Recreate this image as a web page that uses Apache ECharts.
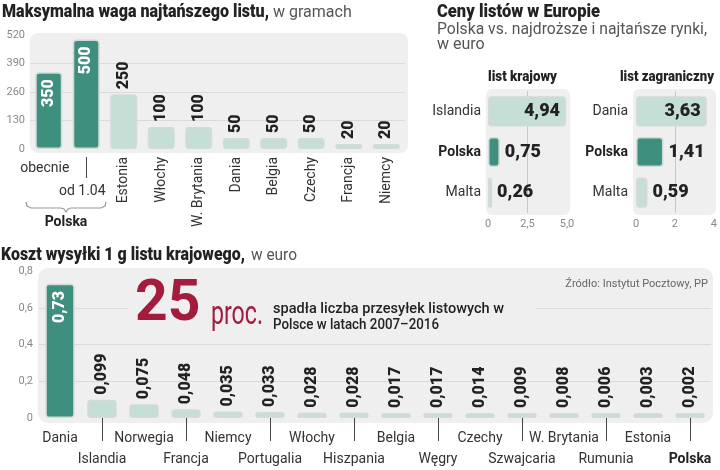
<!DOCTYPE html>
<html>
<head>
<meta charset="utf-8" />
<title>Listy w Europie</title>
<script src="https://cdn.jsdelivr.net/npm/echarts@6.0.0/dist/echarts.min.js"></script>
<style>
  html, body { margin: 0; padding: 0; background: #fff; }
  #chart { width: 720px; height: 470px; }
</style>
</head>
<body>
<div id="chart"></div>
<script>
// maksymalna waga najtanszego listu (g)
var wagaKraje = ['obecnie', 'od 1.04', 'Estonia', 'Włochy', 'W. Brytania', 'Dania', 'Belgia', 'Czechy', 'Francja', 'Niemcy'];
var wagaGramy = [350, 500, 250, 100, 100, 50, 50, 50, 20, 20];
var wagaPolska = [0, 1];

// ceny listow w Europie (euro)
var krajowyKraje = ['Islandia', 'Polska', 'Malta'];
var krajowyCeny = [4.94, 0.75, 0.26];
var zagrKraje = ['Dania', 'Polska', 'Malta'];
var zagrCeny = [3.63, 1.41, 0.59];

// koszt wysylki 1 g listu krajowego (euro)
var kosztKraje = ['Dania', 'Islandia', 'Norwegia', 'Francja', 'Niemcy', 'Portugalia', 'Włochy', 'Hiszpania',
                  'Belgia', 'Węgry', 'Czechy', 'Szwajcaria', 'W. Brytania', 'Rumunia', 'Estonia', 'Polska'];
var kosztEuro = [0.73, 0.099, 0.075, 0.048, 0.035, 0.033, 0.028, 0.028, 0.017, 0.017, 0.014, 0.009, 0.008, 0.006, 0.003, 0.002];
var kosztWyrozniony = 'Dania';

var DARK = '#3f8f7f';
var LIGHT = '#c6dfd6';
var RED = '#a31b3d';
var PANEL = '#efefef';
var GRIDC = '#dadada';
var FONT = "Roboto, 'Noto Sans', sans-serif";
var HEAVY = 900;

function przecinek(v) { return String(v).replace('.', ','); }

// waski tekst: sciskamy napis do szerokosci z oryginalu
var ctx = document.createElement('canvas').getContext('2d');
function waski(text, x, y, size, weight, color, width) {
    ctx.font = weight + ' ' + size + 'px ' + FONT;
    var w = ctx.measureText(text).width;
    var s = Math.min(1, width / w);
    return {
        type: 'text', z: 3, x: x, y: y, scaleX: s, originX: 0, originY: 0,
        style: { text: text, x: 0, y: 0, verticalAlign: 'middle', fontFamily: FONT, fontWeight: weight, fontSize: size, fill: color }
    };
}

var chart = echarts.init(document.getElementById('chart'));

var barStyle = { borderRadius: 3, borderWidth: 1.5, borderColor: '#d3dad7' };

var option = {
    animation: false,
    graphic: [
        { type: 'rect', z: -10, shape: { x: 30, y: 33, width: 378, height: 120, r: 8 }, style: { fill: PANEL } },
        { type: 'rect', z: -10, shape: { x: 486, y: 89, width: 84, height: 126, r: 6 }, style: { fill: PANEL } },
        { type: 'rect', z: -10, shape: { x: 633, y: 89, width: 83, height: 126, r: 6 }, style: { fill: PANEL } },
        { type: 'rect', z: -10, shape: { x: 38, y: 268, width: 675, height: 155, r: 10 }, style: { fill: PANEL } },

        waski('Maksymalna waga najtańszego listu,', 2, 12, 19, HEAVY, '#222', 267),
        waski('w gramach', 273, 13, 16, 'normal', '#555', 80),
        waski('Ceny listów w Europie', 437, 12, 19, HEAVY, '#222', 163),
        waski('Polska vs. najdroższe i najtańsze rynki,', 437, 30, 16, 'normal', '#555', 270),
        waski('w euro', 437, 45, 16, 'normal', '#555', 49),
        waski('Koszt wysyłki 1 g listu krajowego,', 1, 255, 19, HEAVY, '#222', 244),
        waski('w euro', 251, 256, 16, 'normal', '#555', 46),
        { type: 'text', z: 3, style: { text: 'Źródło: Instytut Pocztowy, PP', x: 708, y: 284, align: 'right', verticalAlign: 'middle',
          fontFamily: FONT, fontSize: 11, fill: '#666' } },

        // klamra pod Polska
        { type: 'polyline', z: 3, shape: { points: [[26, 202], [27, 206], [31, 208], [61, 208], [64, 209], [66, 212],
          [68, 209], [71, 208], [101, 208], [105, 206], [106, 202]] },
          style: { fill: 'none', stroke: '#999', lineWidth: 1.2 } },
        { type: 'text', z: 3, style: { text: 'Polska', x: 66, y: 222, align: 'center', verticalAlign: 'middle',
          fontFamily: FONT, fontWeight: 'bold', fontSize: 14, fill: '#222' } },
        waski('list krajowy', 488, 77, 15, HEAVY, '#222', 69),
        waski('list zagraniczny', 620, 77, 15, HEAVY, '#222', 94),

        // 25 proc.
        { type: 'rect', z: 1, shape: { x: 128, y: 303, width: 408, height: 12 }, style: { fill: PANEL } },
        { type: 'text', z: 3, style: { text: '25', x: 135, y: 306, verticalAlign: 'middle',
          fontFamily: FONT, fontWeight: 'bold', fontSize: 57, fill: RED } },
        waski('proc.', 211, 315, 34, 'normal', RED, 52),
        waski('spadła liczba przesyłek listowych w', 273, 309, 15, 500, '#222', 231),
        waski('Polsce w latach 2007–2016', 273, 325, 15, 500, '#222', 166)
    ],
    grid: [
        { left: 30, top: 35, width: 375, height: 114 },
        { left: 488, top: 91, width: 79, height: 122 },
        { left: 636, top: 91, width: 81, height: 122 },
        { left: 39, top: 271, width: 672, height: 148 }
    ],
    xAxis: [
        {
            gridIndex: 0, type: 'category', data: wagaKraje,
            axisLine: { show: false }, axisTick: { show: false },
            axisLabel: {
                interval: 0, rotate: 90, margin: 8, fontFamily: FONT, fontSize: 14, color: '#333',
                formatter: function (v, i) { return wagaPolska.indexOf(i) >= 0 ? '' : v; }
            }
        },
        {
            gridIndex: 0, type: 'category', data: wagaKraje, position: 'bottom', offset: 8,
            axisLine: { show: false },
            axisTick: { show: true, alignWithLabel: true, length: 21, lineStyle: { color: '#444' },
                        interval: function (i) { return i === 1; } },
            axisLabel: {
                interval: 0, margin: 0, fontFamily: FONT, fontSize: 14, lineHeight: 23, color: '#333',
                padding: [0, 8, 0, 0],
                formatter: function (v, i) {
                    if (i === wagaPolska[0]) return v;
                    if (i === wagaPolska[1]) return '\n' + v;
                    return '';
                }
            }
        },
        {
            gridIndex: 1, type: 'value', min: 0, max: 5, interval: 2.5,
            axisLine: { show: false }, axisTick: { show: false },
            splitLine: { lineStyle: { color: ['transparent', '#c8c8c8', 'transparent'] } },
            axisLabel: { margin: 6, fontFamily: FONT, fontSize: 11, color: '#888',
                formatter: function (v) { return v === 0 ? '0' : przecinek(v.toFixed(1)); } }
        },
        {
            gridIndex: 2, type: 'value', min: 0, max: 4, interval: 2,
            axisLine: { show: false }, axisTick: { show: false },
            splitLine: { lineStyle: { color: ['transparent', '#c8c8c8', 'transparent'] } },
            axisLabel: { margin: 6, fontFamily: FONT, fontSize: 11, color: '#888' }
        },
        {
            gridIndex: 3, type: 'category', data: kosztKraje, offset: 6,
            axisLine: { show: false },
            axisTick: { show: true, alignWithLabel: true, length: 23, lineStyle: { color: '#444' },
                        interval: function (i) { return i % 2 === 1; } },
            axisLabel: {
                interval: 0, margin: 4, fontFamily: FONT, fontSize: 14, lineHeight: 21, color: '#333',
                rich: { b: { fontFamily: FONT, fontWeight: 'bold', fontSize: 14, lineHeight: 21, color: '#222' } },
                formatter: function (v, i) {
                    var t = v === 'Polska' ? '{b|' + v + '}' : v;
                    return i % 2 === 1 ? '\n' + t : t;
                }
            }
        }
    ],
    yAxis: [
        {
            gridIndex: 0, type: 'value', min: 0, max: 520, interval: 130,
            axisLine: { show: false }, axisTick: { show: false },
            splitLine: { lineStyle: { color: ['transparent', GRIDC, GRIDC, GRIDC, 'transparent'] } },
            axisLabel: { margin: 5, fontFamily: FONT, fontSize: 11, color: '#888' }
        },
        {
            gridIndex: 1, type: 'category', data: krajowyKraje, inverse: true,
            axisLine: { show: false }, axisTick: { show: false },
            axisLabel: { margin: 7, fontFamily: FONT, fontSize: 14, color: '#333',
                rich: { b: { fontFamily: FONT, fontWeight: 'bold', fontSize: 14, color: '#222' } },
                formatter: function (v) { return v === 'Polska' ? '{b|' + v + '}' : v; } }
        },
        {
            gridIndex: 2, type: 'category', data: zagrKraje, inverse: true,
            axisLine: { show: false }, axisTick: { show: false },
            axisLabel: { margin: 8, fontFamily: FONT, fontSize: 14, color: '#333',
                rich: { b: { fontFamily: FONT, fontWeight: 'bold', fontSize: 14, color: '#222' } },
                formatter: function (v) { return v === 'Polska' ? '{b|' + v + '}' : v; } }
        },
        {
            gridIndex: 3, type: 'value', min: 0, max: 0.8, interval: 0.2,
            axisLine: { show: false }, axisTick: { show: false },
            splitLine: { lineStyle: { color: ['transparent', GRIDC, GRIDC, GRIDC, 'transparent'] } },
            axisLabel: { margin: 6, fontFamily: FONT, fontSize: 11, color: '#888',
                formatter: function (v) { return v === 0 ? '0' : przecinek(v.toFixed(1)); } }
        }
    ],
    series: [
        {
            name: 'waga', type: 'bar', xAxisIndex: 0, yAxisIndex: 0, barWidth: '72%', barMinHeight: 5,
            itemStyle: barStyle,
            label: { show: true, rotate: 90, verticalAlign: 'middle', fontFamily: FONT, fontWeight: HEAVY, fontSize: 16,
                formatter: function (p) { return przecinek(p.value); } },
            data: wagaGramy.map(function (v, i) {
                var pl = wagaPolska.indexOf(i) >= 0;
                return {
                    value: v,
                    itemStyle: { color: pl ? DARK : LIGHT },
                    label: pl ? { position: 'insideTop', align: 'right', distance: 7, color: '#fff' }
                              : { position: 'top', align: 'left', distance: 5, color: '#222' }
                };
            })
        },
        {
            name: 'krajowy', type: 'bar', xAxisIndex: 2, yAxisIndex: 1, barWidth: '74%', barMinHeight: 4,
            itemStyle: barStyle,
            label: { show: true, fontFamily: FONT, fontWeight: HEAVY, fontSize: 18, color: '#222',
                formatter: function (p) { return przecinek(p.value); } },
            data: krajowyCeny.map(function (v, i) {
                return {
                    value: v,
                    itemStyle: { color: krajowyKraje[i] === 'Polska' ? DARK : LIGHT },
                    label: i === 0 ? { position: 'insideRight', distance: 6 } : { position: 'right', distance: 5 }
                };
            })
        },
        {
            name: 'zagraniczny', type: 'bar', xAxisIndex: 3, yAxisIndex: 2, barWidth: '74%', barMinHeight: 4,
            itemStyle: barStyle,
            label: { show: true, fontFamily: FONT, fontWeight: HEAVY, fontSize: 18, color: '#222',
                formatter: function (p) { return przecinek(p.value); } },
            data: zagrCeny.map(function (v, i) {
                return {
                    value: v,
                    itemStyle: { color: zagrKraje[i] === 'Polska' ? DARK : LIGHT },
                    label: i === 0 ? { position: 'insideRight', distance: 6 } : { position: 'right', distance: 5 }
                };
            })
        },
        {
            name: 'koszt', type: 'bar', xAxisIndex: 4, yAxisIndex: 3, barWidth: '70%', barMinHeight: 5,
            itemStyle: barStyle,
            label: { show: true, rotate: 90, verticalAlign: 'middle', fontFamily: FONT, fontWeight: HEAVY, fontSize: 16,
                formatter: function (p) { return przecinek(p.value); } },
            data: kosztEuro.map(function (v, i) {
                var wyr = kosztKraje[i] === kosztWyrozniony;
                return {
                    value: v,
                    itemStyle: { color: wyr ? DARK : LIGHT },
                    label: wyr ? { position: 'insideTop', align: 'right', distance: 7, color: '#fff' }
                               : { position: 'top', align: 'left', distance: 5, color: '#222' }
                };
            })
        }
    ]
};

chart.setOption(option);
</script>
</body>
</html>
